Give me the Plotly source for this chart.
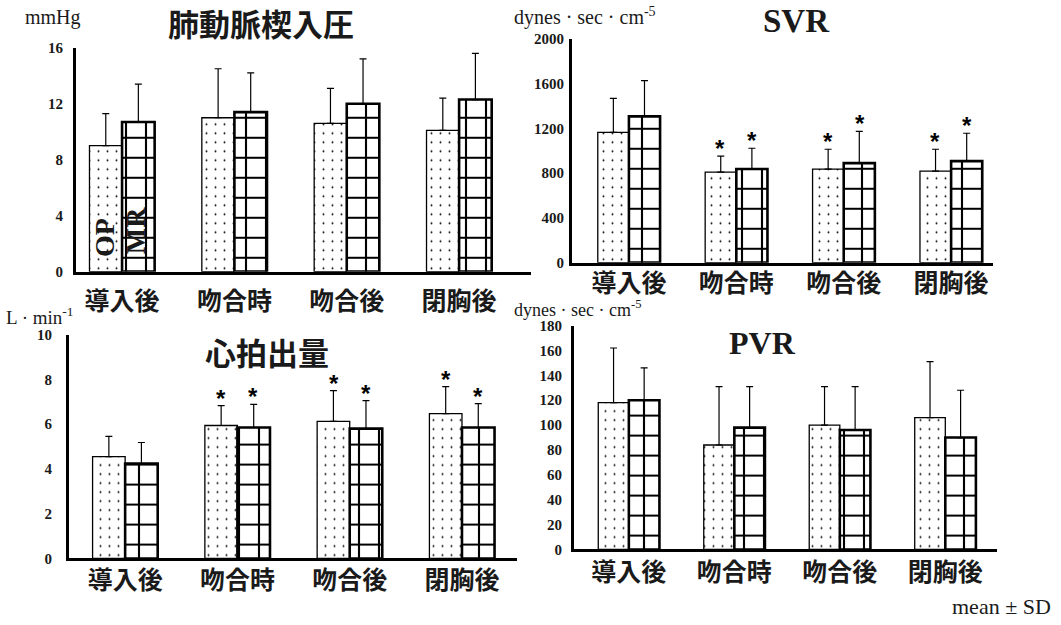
import plotly.graph_objects as go

W, H = 1061, 625

categories = ["導入後", "吻合時", "吻合後", "閉胸後"]

# 肺動脈楔入圧 (mmHg)
pcwp_op_mean = [9.0, 11.0, 10.6, 10.1]
pcwp_op_sd = [2.3, 3.5, 2.5, 2.3]
pcwp_mr_mean = [10.7, 11.4, 12.0, 12.3]
pcwp_mr_sd = [2.7, 2.8, 3.2, 3.3]

# SVR (dynes·sec·cm-5)
svr_op_mean = [1164, 809, 836, 818]
svr_op_sd = [303, 142, 177, 195]
svr_mr_mean = [1307, 836, 889, 907]
svr_mr_sd = [320, 186, 284, 249]
svr_op_sig = [False, True, True, True]
svr_mr_sig = [False, True, True, True]

# 心拍出量 (L·min-1)
co_op_mean = [4.55, 5.94, 6.12, 6.47]
co_op_sd = [0.90, 0.89, 1.38, 1.21]
co_mr_mean = [4.24, 5.85, 5.80, 5.85]
co_mr_sd = [0.94, 1.03, 1.25, 1.07]
co_op_sig = [False, True, True, True]
co_mr_sig = [False, True, True, True]

# PVR (dynes·sec·cm-5)
pvr_op_mean = [118, 84, 100, 106]
pvr_op_sd = [44, 47, 31, 45]
pvr_mr_mean = [120, 98, 96, 90]
pvr_mr_sd = [26, 33, 35, 38]

y_ticks = {
    "pcwp": [0, 4, 8, 12, 16],
    "svr": [0, 400, 800, 1200, 1600, 2000],
    "co": [0, 2, 4, 6, 8, 10],
    "pvr": [0, 20, 40, 60, 80, 100, 120, 140, 160, 180],
}

SERIF = "Liberation Serif"
CJK = "Noto Sans CJK JP"
INK = "#1a1a1a"


def vy(y):
    # vertical pixel position on the page, corrected for the page offset seen in rendering
    return (y - 8.2) / 0.975


def px_x(a, b):
    return [a / W, b / W]


def px_y(top, bottom):
    return [1 - vy(bottom) / H, 1 - vy(top) / H]


panels = [
    # name, suffix, x-dom px, y-dom px, x-range, y-range, data..., x-label standoff, y-label standoff
    ("pcwp", "", (76, 531), (48, 272), [-0.41, 3.64], [0, 16],
     pcwp_op_mean, pcwp_op_sd, pcwp_mr_mean, pcwp_mr_sd, None, None, 5, 7),
    ("svr", "2", (572, 993), (39, 263), [-0.53, 3.39], [0, 2000],
     svr_op_mean, svr_op_sd, svr_mr_mean, svr_mr_sd, svr_op_sig, svr_mr_sig, -4, 2),
    ("co", "3", (69, 517), (335, 559), [-0.5, 3.49], [0, 10],
     co_op_mean, co_op_sd, co_mr_mean, co_mr_sd, co_op_sig, co_mr_sig, -2, 11),
    ("pvr", "4", (574, 997), (326, 550), [-0.52, 3.49], [0, 180],
     pvr_op_mean, pvr_op_sd, pvr_mr_mean, pvr_mr_sd, None, None, -1, 6),
]

fig = go.Figure()
annotations = []
layout_axes = {}

for (name, suf, xd, yd, xr, yr, op_m, op_sd, mr_m, mr_sd, op_sig, mr_sig,
     xstand, ystand) in panels:
    xa = "x" + suf
    ya = "y" + suf
    fig.add_trace(go.Bar(
        x=categories, y=op_m, xaxis=xa, yaxis=ya, name="OP", showlegend=False,
        marker=dict(color="white", line=dict(color="black", width=1.3),
                    pattern=dict(shape=".", size=9, solidity=0.035, fgopacity=1,
                                 fgcolor="black", bgcolor="white", fillmode="overlay")),
        error_y=dict(type="data", array=op_sd, arrayminus=[0] * len(op_sd),
                     symmetric=False, color="black", thickness=1.2, width=3.5),
    ))
    fig.add_trace(go.Bar(
        x=categories, y=mr_m, xaxis=xa, yaxis=ya, name="MR", showlegend=False,
        marker=dict(color="white", line=dict(color="black", width=2.6),
                    pattern=dict(shape="+", size=20, solidity=0.2, fgopacity=1,
                                 fgcolor="black", bgcolor="white", fillmode="overlay")),
        error_y=dict(type="data", array=mr_sd, arrayminus=[0] * len(mr_sd),
                     symmetric=False, color="black", thickness=1.2, width=3.5),
    ))
    for sig, means, sds, shift in ((op_sig, op_m, op_sd, -16), (mr_sig, mr_m, mr_sd, 16)):
        if sig is None:
            continue
        for c, s, m, d in zip(categories, sig, means, sds):
            if s:
                annotations.append(dict(
                    xref=xa, yref=ya, x=c, y=m + d, xshift=shift, yshift=-8,
                    text="<b>*</b>", showarrow=False, yanchor="bottom",
                    font=dict(family="Liberation Sans", size=24, color="black")))
    layout_axes["xaxis" + suf] = dict(
        domain=px_x(*xd), range=xr, anchor=ya, showline=True, linecolor="black",
        linewidth=3, ticks="", showgrid=False, zeroline=False,
        tickfont=dict(family=CJK, size=25, color=INK, weight="bold"),
        ticklabelstandoff=xstand, fixedrange=True)
    layout_axes["yaxis" + suf] = dict(
        domain=px_y(*yd), range=yr, anchor=xa, showline=True, linecolor="black",
        linewidth=3, ticks="", showgrid=False, zeroline=False,
        tickvals=y_ticks[name], ticktext=[str(v) for v in y_ticks[name]],
        tickfont=dict(family=SERIF, size=15, color=INK, weight="bold"),
        ticklabelstandoff=ystand, fixedrange=True)


def paper_text(text, x, y, size, family, bold=False, xanchor="center", yanchor="middle", angle=0):
    return dict(xref="paper", yref="paper", x=x / W, y=1 - vy(y) / H, text=text,
                showarrow=False, xanchor=xanchor, yanchor=yanchor, textangle=angle,
                font=dict(family=family, size=size, color=INK,
                          weight="bold" if bold else "normal"))


annotations += [
    paper_text("肺動脈楔入圧", 261, 23, 31, CJK, bold=True),
    paper_text("SVR", 796, 21, 33, SERIF, bold=True),
    paper_text("心拍出量", 267, 352, 31, CJK, bold=True),
    paper_text("PVR", 762, 343, 32, SERIF, bold=True),
    paper_text("mmHg", 23, 18, 20, SERIF, xanchor="left"),
    paper_text("dynes · sec · cm<sup>-5</sup>", 512, 17, 20, SERIF, xanchor="left"),
    paper_text("L · min<sup>-1</sup>", 4, 316, 19, SERIF, xanchor="left"),
    paper_text("dynes · sec · cm<sup>-5</sup>", 512, 309, 18, SERIF, xanchor="left"),
    paper_text("mean ± SD", 1053, 607, 22, SERIF, xanchor="right"),
]

# OP / MR labels inside the first pair of bars of the top-left panel
annotations += [
    dict(xref="x", yref="y", x=categories[0], y=2.4, xshift=-18, text="<b>OP</b>",
         showarrow=False, textangle=-90,
         font=dict(family=SERIF, size=28, color=INK)),
    dict(xref="x", yref="y", x=categories[0], y=2.9, xshift=13, text="<b>MR</b>",
         showarrow=False, textangle=-90,
         font=dict(family=SERIF, size=28, color=INK)),
]

fig.update_layout(
    width=W, height=H, autosize=False,
    margin=dict(l=0, r=0, t=0, b=0),
    paper_bgcolor="white", plot_bgcolor="white",
    barmode="group", bargap=0.42, bargroupgap=0.0,
    annotations=annotations, showlegend=False,
    **layout_axes,
)

fig.write_html("out.html", config={"displayModeBar": False},
               post_script="document.body.style.margin='0';")
